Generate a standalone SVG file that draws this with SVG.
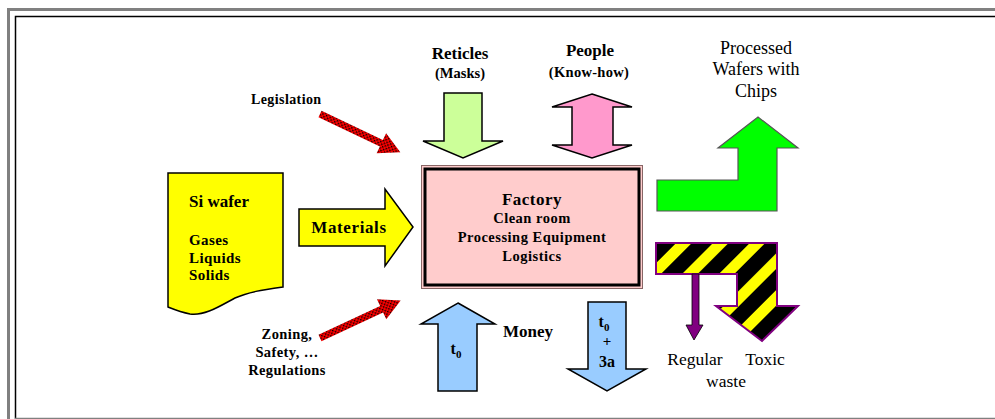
<svg xmlns="http://www.w3.org/2000/svg" width="995" height="419" viewBox="0 0 995 419">
<style>
.t{font-family:'Liberation Serif','DejaVu Serif',serif;fill:#000}
.b{font-weight:bold}
.c{text-anchor:middle}
.out{stroke:#000;stroke-width:1.5;stroke-linejoin:miter}
</style>
<defs>
<pattern id="dots" width="4" height="4" patternUnits="userSpaceOnUse">
<rect width="4" height="4" fill="#ff0000"/>
<rect x="0" y="0" width="1.5" height="1.5" fill="#000"/>
<rect x="2" y="2" width="1.5" height="1.5" fill="#000"/>
</pattern>
<pattern id="stripes" width="26" height="26" patternUnits="userSpaceOnUse" patternTransform="rotate(45)">
<rect width="26" height="26" fill="#000"/>
<rect width="11" height="26" fill="#ffff00"/>
</pattern>
<polygon id="redarrow" points="0,-3.5 68,-3.5 68,-11 89,0 68,11 68,3.5 0,3.5"/>
</defs>
<rect width="995" height="419" fill="#fff"/>
<g id="frame">
<path d="M8.5,419 V9.5 H995" fill="none" stroke="#808080" stroke-width="3"/>
<path d="M15.5,419 V16.5 H995" fill="none" stroke="#000" stroke-width="1.5"/>
<path d="M15,418.5 H995" fill="none" stroke="#808080" stroke-width="1.5"/>
</g>
<g id="connectors">
<g id="legislation-arrow"><use href="#redarrow" fill="url(#dots)" transform="translate(320,114) rotate(25.5)"/></g>
<g id="zoning-arrow"><use href="#redarrow" fill="url(#dots)" transform="translate(320,338) rotate(-25)"/></g>
<g id="materials-arrow">
<polygon class="out" fill="#ffff00" points="299,209 385,209 385,189 413,227 385,266 385,246 299,246"/>
<text class="t b c" x="349" y="233" font-size="17" letter-spacing="0.6">Materials</text>
</g>
<g id="reticles-arrow">
<polygon class="out" fill="#ccff99" points="444,93 482,93 482,141 503,141 463,158 423,141 444,141"/>
</g>
<g id="people-arrow">
<polygon class="out" fill="#ff99cc" points="592,94 632,107 613,107 613,145 632,145 592,158 552,145 572,145 572,107 552,107"/>
</g>
<g id="money-in-arrow">
<polygon class="out" fill="#99ccff" points="458,303 495,324 477,324 477,391 438,391 438,324 421,324"/>
<text class="t b c" x="456" y="354" font-size="16">t<tspan font-size="11" dy="4">0</tspan></text>
</g>
<g id="money-out-arrow">
<polygon class="out" fill="#99ccff" points="588,302 626,302 626,369 646,369 607,391 568,369 588,369"/>
<text class="t b c" x="604" y="327" font-size="16">t<tspan font-size="11" dy="4">0</tspan></text>
<text class="t b c" x="607" y="346" font-size="15">+</text>
<text class="t b c" x="607" y="367" font-size="16">3a</text>
</g>
<g id="output-arrow">
<polygon fill="#00ff00" stroke="#555" stroke-width="1.2" points="657,180 738,180 738,148 718,148 758,117 798,148 777,148 777,211 657,211"/>
</g>
<g id="waste-arrow">
<polygon fill="url(#stripes)" stroke="#800080" stroke-width="2" points="656,243 777,243 777,306 798,306 762,341 716,306 737,306 737,274 656,274"/>
</g>
<g id="regular-waste-arrow">
<polygon fill="#800080" stroke="#000" stroke-width="0.8" points="692,274 699,274 699,325 703,325 694,340 686,325 692,325"/>
</g>
</g>
<g id="si-wafer">
<path class="out" fill="#ffff00" d="M168,173 H283 V287 C262,290 248,292 235,298 C220,306 205,316 190,314 C180,312 173,309 168,307 Z"/>
<text class="t b" x="189" y="207" font-size="17">Si wafer</text>
<text class="t b" x="189" y="245" font-size="15" letter-spacing="0.4">Gases</text>
<text class="t b" x="189" y="263" font-size="15" letter-spacing="0.4">Liquids</text>
<text class="t b" x="189" y="280" font-size="15" letter-spacing="0.4">Solids</text>
</g>
<g id="factory">
<rect x="421.5" y="165.5" width="221" height="123" fill="#ffcccc" stroke="#886666" stroke-width="1"/>
<rect x="425" y="169" width="214" height="116" fill="#ffcccc" stroke="#000" stroke-width="3"/>
<text class="t b c" x="532" y="205" font-size="17" letter-spacing="0.5">Factory</text>
<text class="t b c" x="532" y="223" font-size="14.5" letter-spacing="0.5">Clean room</text>
<text class="t b c" x="532" y="242" font-size="14.5" letter-spacing="0.5">Processing Equipment</text>
<text class="t b c" x="532" y="261" font-size="14.5" letter-spacing="0.5">Logistics</text>
</g>
<g id="reticles-label">
<text class="t b c" x="460" y="59" font-size="17">Reticles</text>
<text class="t b c" x="460" y="78" font-size="14.5">(Masks)</text>
</g>
<g id="people-label">
<text class="t b c" x="590" y="56" font-size="17">People</text>
<text class="t b c" x="589" y="77" font-size="14.5" letter-spacing="0.3">(Know-how)</text>
</g>
<g id="legislation-label">
<text class="t b" x="251" y="104" font-size="14" letter-spacing="0.4">Legislation</text>
</g>
<g id="zoning-label">
<text class="t b c" x="287" y="339" font-size="14.5" letter-spacing="0.4">Zoning,</text>
<text class="t b c" x="287" y="357" font-size="14.5" letter-spacing="0.4">Safety, …</text>
<text class="t b c" x="287" y="375" font-size="14.5" letter-spacing="0.4">Regulations</text>
</g>
<g id="money-label">
<text class="t b" x="503" y="337" font-size="17">Money</text>
</g>
<g id="output-label">
<text class="t c" x="756" y="54" font-size="18">Processed</text>
<text class="t c" x="756" y="75" font-size="18">Wafers with</text>
<text class="t c" x="756" y="97" font-size="18">Chips</text>
</g>
<g id="waste-labels">
<text class="t c" x="695" y="365" font-size="17.5">Regular</text>
<text class="t c" x="765" y="365" font-size="17.5">Toxic</text>
<text class="t c" x="726" y="387" font-size="17.5">waste</text>
</g>
</svg>
